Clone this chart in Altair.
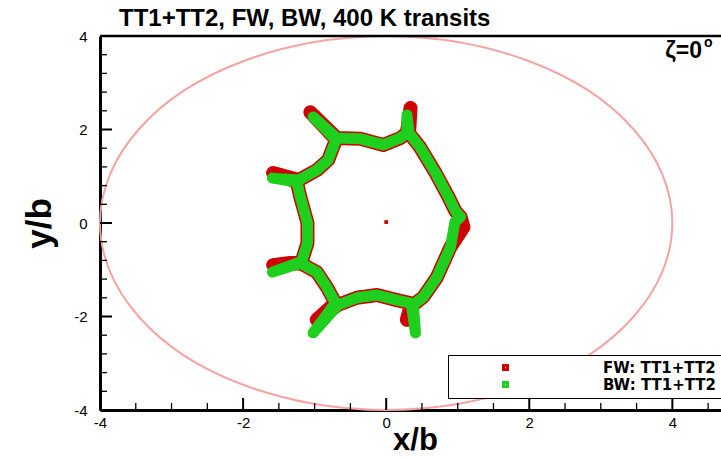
import altair as alt
import pandas as pd

# ---------------- data ----------------
title_text = "TT1+TT2, FW, BW, 400 K transits"
series_names = ["FW: TT1+TT2", "BW: TT1+TT2"]
series_colors = ["#d00000", "#1ecf1e"]
circle_color = "#f5a3a3"

# reference circle r = 4 (read at 15 degree steps)
circle_x = [4.00, 3.86, 3.46, 2.83, 2.00, 1.04, 0.00, -1.04, -2.00, -2.83, -3.46, -3.86,
            -4.00, -3.86, -3.46, -2.83, -2.00, -1.04, 0.00, 1.04, 2.00, 2.83, 3.46, 3.86]
circle_y = [0.00, 1.04, 2.00, 2.83, 3.46, 3.86, 4.00, 3.86, 3.46, 2.83, 2.00, 1.04,
            0.00, -1.04, -2.00, -2.83, -3.46, -3.86, -4.00, -3.86, -3.46, -2.83, -2.00, -1.04]

# BW trace (green)
bw_x = [-1.02, -0.69, -0.36, -0.04, 0.20, 0.29, 0.29, 0.32, 0.47, 0.69, 0.87, 0.97, 1.04, 0.96,
        0.90, 0.71, 0.52, 0.38, 0.41, 0.35, 0.15, -0.13, -0.41, -0.67, -1.02, -0.71, -0.83, -0.97,
        -1.20, -1.59, -1.18, -1.10, -1.10, -1.20, -1.25, -1.59, -1.22, -0.97, -0.81, -0.74, -0.70]
bw_y = [2.27, 1.82, 1.80, 1.67, 1.82, 1.93, 2.31, 1.92, 1.63, 1.07, 0.56, 0.25, 0.13, 0.02,
        -0.51, -1.16, -1.58, -1.75, -2.35, -1.72, -1.65, -1.54, -1.60, -1.75, -2.35, -1.71, -1.37, -1.05,
        -0.86, -1.05, -0.82, -0.43, 0.00, 0.56, 0.88, 0.96, 0.92, 1.13, 1.35, 1.63, 1.78]

# FW trace (red)
fw_x = [-1.06, -0.69, -0.36, -0.04, 0.20, 0.29, 0.34, 0.32, 0.47, 0.69, 0.87, 0.97, 1.04, 1.08,
        0.90, 0.71, 0.52, 0.38, 0.29, 0.35, 0.15, -0.13, -0.41, -0.67, -0.97, -0.71, -0.83, -0.97,
        -1.20, -1.58, -1.18, -1.10, -1.10, -1.20, -1.25, -1.58, -1.22, -0.97, -0.81, -0.74, -0.70]
fw_y = [2.37, 1.82, 1.80, 1.67, 1.82, 1.93, 2.46, 1.92, 1.63, 1.07, 0.56, 0.25, 0.13, -0.09,
        -0.51, -1.16, -1.58, -1.75, -2.07, -1.72, -1.65, -1.54, -1.60, -1.75, -2.07, -1.71, -1.37, -1.05,
        -0.86, -0.90, -0.82, -0.43, 0.00, 0.56, 0.88, 1.07, 0.92, 1.13, 1.35, 1.63, 1.78]

center_x = [0.0]
center_y = [0.02]

x_major = [-4, -2, 0, 2, 4]
x_minor = [-3.5, -3, -2.5, -1.5, -1, -0.5, 0.5, 1, 1.5, 2.5, 3, 3.5, 4.5]
y_major = [-4, -2, 0, 2, 4]
y_minor = [-3.6, -3.2, -2.8, -2.4, -1.6, -1.2, -0.8, -0.4, 0.4, 0.8, 1.2, 1.6, 2.4, 2.8, 3.2, 3.6]

# ---------------- chart ----------------
W, H = 621, 374
FONT = "Liberation Sans"

xs = alt.Scale(domain=[-4, 4.68], nice=False, zero=False)
ys = alt.Scale(domain=[-4, 4], nice=False, zero=False)

x_axis = alt.Axis(values=x_major, title="x/b", tickSize=0, grid=False, domainWidth=3,
                  domainColor="black", labelFont=FONT, labelFontSize=15, labelColor="black",
                  labelPadding=5, labelFlush=False, labelExpr="'' + datum.value",
                  titleFont=FONT, titleFontSize=31,
                  titleFontWeight="bold", titleColor="black", titleX=315, titleY=39,
                  titleBaseline="alphabetic")
y_axis = alt.Axis(values=y_major, title="y/b", tickSize=0, grid=False, domainWidth=3,
                  domainColor="black", labelFont=FONT, labelFontSize=15, labelColor="black",
                  labelPadding=13, labelFlush=False, labelExpr="'' + datum.value",
                  titleFont=FONT, titleFontSize=35,
                  titleFontWeight="bold", titleColor="black", titleX=-50, titleY=187,
                  titleBaseline="alphabetic")

circle_df = pd.DataFrame({"x": circle_x, "y": circle_y, "i": range(len(circle_x))})
fw_df = pd.DataFrame({"x": fw_x, "y": fw_y, "i": range(len(fw_x)), "series": series_names[0]})
bw_df = pd.DataFrame({"x": bw_x, "y": bw_y, "i": range(len(bw_x)), "series": series_names[1]})
center_df = pd.DataFrame({"x": center_x, "y": center_y})

color = alt.Color("series:N", scale=alt.Scale(domain=series_names, range=series_colors),
                  legend=alt.Legend(title=None, orient="none", legendX=348, legendY=319,
                                    padding=5, fillColor="white", strokeColor="black",
                                    labelFont="DejaVu Sans", labelFontSize=15,
                                    labelFontWeight="bold", labelColor="black",
                                    symbolType="square", symbolSize=16, symbolStrokeWidth=3,
                                    symbolOffset=45, labelOffset=90, rowPadding=0,
                                    labelLimit=300))

circle = alt.Chart(circle_df).mark_line(
    interpolate="cardinal-closed", color=circle_color, strokeWidth=2
).encode(
    x=alt.X("x:Q", scale=xs, axis=x_axis),
    y=alt.Y("y:Q", scale=ys, axis=y_axis),
    order="i:Q",
)

fw = alt.Chart(fw_df).mark_line(
    interpolate="linear-closed", strokeWidth=14, strokeCap="round", strokeJoin="round"
).encode(
    x=alt.X("x:Q", scale=xs, axis=x_axis),
    y=alt.Y("y:Q", scale=ys, axis=y_axis),
    order="i:Q",
    color=color,
)

bw = alt.Chart(bw_df).mark_line(
    interpolate="linear-closed", strokeWidth=11, strokeCap="round", strokeJoin="round"
).encode(
    x=alt.X("x:Q", scale=xs, axis=x_axis),
    y=alt.Y("y:Q", scale=ys, axis=y_axis),
    order="i:Q",
    color=color,
)

center = alt.Chart(center_df).mark_square(size=14, color=series_colors[0], opacity=1).encode(
    x=alt.X("x:Q", scale=xs, axis=x_axis),
    y=alt.Y("y:Q", scale=ys, axis=y_axis),
)

xmaj = alt.Chart(pd.DataFrame({"v": x_major})).mark_rule(color="black", strokeWidth=2).encode(
    x=alt.X("v:Q", scale=xs, axis=x_axis), y=alt.value(H), y2=alt.value(H - 12))
xmin = alt.Chart(pd.DataFrame({"v": x_minor})).mark_rule(color="black", strokeWidth=1.3).encode(
    x=alt.X("v:Q", scale=xs, axis=x_axis), y=alt.value(H), y2=alt.value(H - 7))
ymaj = alt.Chart(pd.DataFrame({"v": y_major})).mark_rule(color="black", strokeWidth=2).encode(
    y=alt.Y("v:Q", scale=ys, axis=y_axis), x=alt.value(0), x2=alt.value(12))
ymin = alt.Chart(pd.DataFrame({"v": y_minor})).mark_rule(color="black", strokeWidth=1.3).encode(
    y=alt.Y("v:Q", scale=ys, axis=y_axis), x=alt.value(0), x2=alt.value(7))

top_border = alt.Chart(pd.DataFrame({"a": [0]})).mark_rule(color="black", strokeWidth=2.5).encode(
    x=alt.value(0), x2=alt.value(W), y=alt.value(0))

title = alt.Chart(pd.DataFrame({"t": [title_text]})).mark_text(
    font=FONT, fontSize=24, fontWeight="bold", align="left", baseline="alphabetic", color="black"
).encode(text="t:N", x=alt.value(19), y=alt.value(-10))

zeta = alt.Chart(pd.DataFrame({"t": ["ζ=0"]})).mark_text(
    font=FONT, fontSize=23, fontWeight="bold", align="right", baseline="alphabetic", color="black"
).encode(text="t:N", x=alt.value(602), y=alt.value(22))
deg = alt.Chart(pd.DataFrame({"t": ["o"]})).mark_text(
    font=FONT, fontSize=14, fontWeight="bold", align="left", baseline="alphabetic", color="black"
).encode(text="t:N", x=alt.value(604), y=alt.value(11))

chart = alt.layer(
    circle, fw, bw, center, xmaj, xmin, ymaj, ymin, top_border, title, zeta, deg
).properties(
    width=W, height=H,
    autosize=alt.AutoSizeParams(type="none"),
    padding={"left": 100, "top": 36, "right": 0, "bottom": 48},
).configure_view(stroke=None).configure(background="white")

chart.save("out.html", embed_options={"renderer": "svg", "actions": False})
